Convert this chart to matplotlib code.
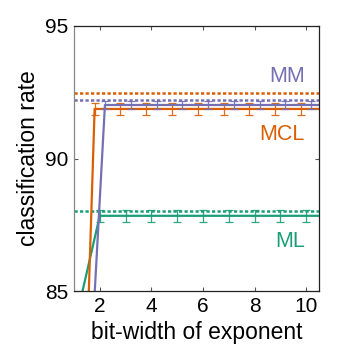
import numpy as np
import matplotlib.pyplot as plt

plt.rcParams['font.family'] = ['Liberation Sans', 'DejaVu Sans']

bit_width = np.array([1, 2, 3, 4, 5, 6, 7, 8, 9, 10, 11])
rate_ml = np.array([83.6, 87.84, 87.84, 87.84, 87.84, 87.84, 87.84, 87.84, 87.84, 87.84, 87.84])
err_ml = np.array([0.23, 0.23, 0.23, 0.23, 0.23, 0.23, 0.23, 0.23, 0.23, 0.23, 0.23])
rate_mcl = np.array([61.3, 91.87, 91.87, 91.87, 91.87, 91.87, 91.87, 91.87, 91.87, 91.87, 91.87])
err_mcl = np.array([0.21, 0.21, 0.21, 0.21, 0.21, 0.21, 0.21, 0.21, 0.21, 0.21, 0.21])
rate_mm = np.array([74.2, 92.02, 92.02, 92.02, 92.02, 92.02, 92.02, 92.02, 92.02, 92.02, 92.02])
err_mm = np.array([0.16, 0.16, 0.16, 0.16, 0.16, 0.16, 0.16, 0.16, 0.16, 0.16, 0.16])

# full precision (dotted reference lines)
full_ml = 88.03
full_mcl = 92.48
full_mm = 92.2

c_ml = '#1b9e77'
c_mcl = '#d95f02'
c_mm = '#7570b3'

fig = plt.figure(figsize=(3.53, 3.55), dpi=100)
ax = fig.add_axes([0.2096, 0.180, 0.694, 0.7468])

dots = (0, (1.3, 0.9))
ax.axhline(full_mcl, color=c_mcl, lw=1.8, ls=dots)
ax.axhline(full_mm, color=c_mm, lw=1.8, ls=dots)
ax.axhline(full_ml, color=c_ml, lw=1.8, ls=dots)

for x_off, rate, err, col in [(0.0, rate_ml, err_ml, c_ml),
                              (-0.2, rate_mcl, err_mcl, c_mcl),
                              (0.2, rate_mm, err_mm, c_mm)]:
    ax.plot(bit_width + x_off, rate, color=col, lw=1.6)
    ax.errorbar(bit_width + x_off, rate, yerr=err, fmt='none', ecolor=col,
                elinewidth=0.9, capsize=2.8, capthick=0.9, alpha=0.9)

ax.text(9.95, 93.1, 'MM', color=c_mm, fontsize=15.5, ha='right', va='center')
ax.text(9.95, 90.9, 'MCL', color=c_mcl, fontsize=15.5, ha='right', va='center')
ax.text(9.95, 86.86, 'ML', color=c_ml, fontsize=15.5, ha='right', va='center')

ax.set_xlim(1, 10.5)
ax.set_ylim(85, 95)
ax.set_xticks([2, 4, 6, 8, 10])
ax.set_yticks([85, 90, 95])
ax.tick_params(direction='in', top=True, right=True, length=3, width=0.8,
               labelsize=15, color='#555555', pad=4)
for s in ax.spines.values():
    s.set_linewidth(0.9)
    s.set_color('#222222')
ax.spines['left'].set_color('#888888')

ax.set_xlabel('bit-width of exponent', fontsize=16.5, labelpad=4)
ax.set_ylabel('classification rate', fontsize=16.5, labelpad=4)

fig.savefig('out.png', dpi=100)
